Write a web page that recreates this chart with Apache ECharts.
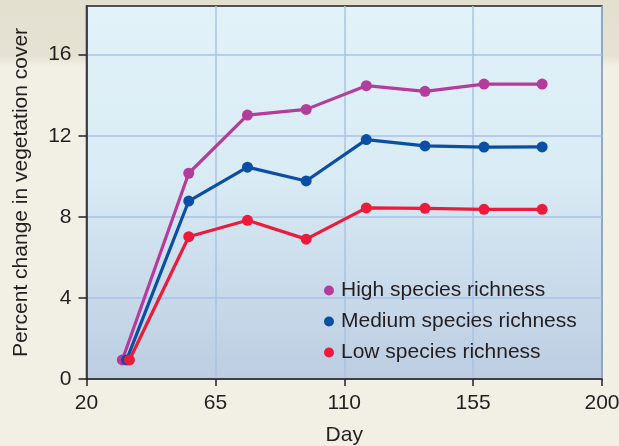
<!DOCTYPE html>
<html>
<head>
<meta charset="utf-8">
<script src="https://cdn.jsdelivr.net/npm/echarts@6/dist/echarts.min.js"></script>
<style>
  html, body { margin: 0; padding: 0; background: #f2f0e4; }
  #chart { width: 619px; height: 446px; }
</style>
</head>
<body>
<div id="chart"></div>
<script>
// Percent change in vegetation cover over time, by species richness
const seriesNames = ['High species richness', 'Medium species richness', 'Low species richness'];
const highDays   = [32.5, 55.7, 76.2, 96.7, 117.7, 138.2, 158.8, 179.1];
const mediumDays = [34,   55.7, 76.2, 96.7, 117.7, 138.2, 158.8, 179.1];
const lowDays    = [35,   55.7, 76.2, 96.7, 117.7, 138.2, 158.8, 179.1];
const highValues   = [0.94, 10.15, 13.02, 13.30, 14.47, 14.19, 14.55, 14.55];
const mediumValues = [0.94, 8.78, 10.45, 9.77, 11.81, 11.50, 11.44, 11.45];
const lowValues    = [0.94, 7.02, 7.83, 6.90, 8.44, 8.42, 8.37, 8.37];
const xTicks = [20, 65, 110, 155, 200];
const yTicks = [0, 4, 8, 12, 16];

const colors = ['#b43c9b', '#0b4fa4', '#ec1b3b'];
const pair = (xs, ys) => xs.map((x, i) => [x, ys[i]]);
const font = '"Liberation Sans", Arial, sans-serif';
const ink = '#231f20';

const chart = echarts.init(document.getElementById('chart'), null, { renderer: 'canvas' });

const lineSeries = (name, data, color) => ({
  name, type: 'line', data,
  symbol: 'circle', symbolSize: 11,
  lineStyle: { color, width: 3.2 },
  itemStyle: { color },
  emphasis: { disabled: true },
  animation: false
});

chart.setOption({
  backgroundColor: '#f2f0e4',
  animation: false,
  graphic: [{
    type: 'rect', z: -10, silent: true,
    shape: { x: 0, y: 0, width: 619, height: 66 },
    style: {
      fill: new echarts.graphic.LinearGradient(0, 0, 0, 1, [
        { offset: 0, color: '#e3e0d0' },
        { offset: 0.85, color: '#e5e2d3' },
        { offset: 1, color: '#f2f0e4' }
      ])
    }
  }],
  grid: {
    left: 86.5, right: 17, top: 6, bottom: 67,
    outerBoundsMode: 'none',
    containLabel: false,
    show: true,
    borderColor: ink, borderWidth: 1.5,
    backgroundColor: new echarts.graphic.LinearGradient(0, 0, 0, 1, [
      { offset: 0, color: '#e1f2f9' },
      { offset: 0.45, color: '#d9ebf4' },
      { offset: 1, color: '#bccde2' }
    ])
  },
  legend: {
    data: seriesNames,
    orient: 'vertical',
    left: 319, top: 275,
    icon: 'circle', itemWidth: 10, itemHeight: 10, itemGap: 10,
    textStyle: { fontFamily: font, fontSize: 21, color: ink, padding: [0, 0, 0, 2] },
    selectedMode: false
  },
  xAxis: {
    type: 'value', min: 20, max: 200, interval: 45,
    name: 'Day', nameLocation: 'middle', nameGap: 46,
    nameTextStyle: { fontFamily: font, fontSize: 21, color: ink },
    axisLine: { show: true, lineStyle: { color: ink, width: 1.5 } },
    axisTick: { show: true, length: 7, lineStyle: { color: ink, width: 1.5 } },
    axisLabel: { fontFamily: font, fontSize: 21, color: ink, margin: 14,
      customValues: xTicks },
    splitLine: { show: true, lineStyle: { color: '#aac2e6', width: 1.5 } }
  },
  yAxis: {
    type: 'value', min: 0, max: 18.4, interval: 4,
    name: 'Percent change in vegetation cover', nameLocation: 'middle', nameGap: 55,
    nameTextStyle: { fontFamily: font, fontSize: 21, color: ink },
    axisLine: { show: true, lineStyle: { color: ink, width: 1.5 } },
    axisTick: { show: true, length: 8, lineStyle: { color: ink, width: 1.5 },
      customValues: yTicks },
    axisLabel: { fontFamily: font, fontSize: 21, color: ink, margin: 15,
      customValues: yTicks },
    splitLine: { show: true, lineStyle: { color: '#aac2e6', width: 1.5 } }
  },
  series: [
    lineSeries(seriesNames[0], pair(highDays, highValues), colors[0]),
    lineSeries(seriesNames[1], pair(mediumDays, mediumValues), colors[1]),
    lineSeries(seriesNames[2], pair(lowDays, lowValues), colors[2])
  ]
});
</script>
</body>
</html>
